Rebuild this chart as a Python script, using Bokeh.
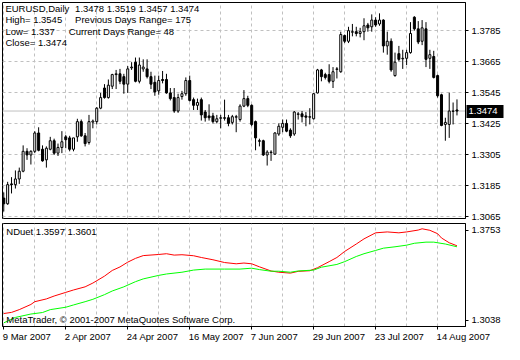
from bokeh.plotting import figure
from bokeh.models import (Range1d, FixedTicker, Span, Grid, LinearAxis,
                          ColumnDataSource, PrintfTickFormatter)
from bokeh.layouts import column
from bokeh.embed import file_html
from bokeh.resources import INLINE
from bokeh.core.properties import value

# ---------------- data ----------------
symbol = "EURUSD,Daily"
opens = [1.3137, 1.3115, 1.3192, 1.3189, 1.3211, 1.3241, 1.3318, 1.3304, 1.3318, 1.3389,
         1.3326, 1.3285, 1.3326, 1.3359, 1.3311, 1.3333, 1.3374, 1.3370, 1.3326, 1.3374,
         1.3433, 1.3378, 1.3352, 1.3431, 1.3433, 1.3485, 1.3563, 1.3526, 1.3570, 1.3615,
         1.3618, 1.3607, 1.3578, 1.3641, 1.3663, 1.3589, 1.3637, 1.3637, 1.3607, 1.3585,
         1.3552, 1.3596, 1.3596, 1.3544, 1.3526, 1.3474, 1.3530, 1.3541, 1.3592, 1.3518,
         1.3496, 1.3518, 1.3470, 1.3455, 1.3455, 1.3433, 1.3446, 1.3448, 1.3448, 1.3430,
         1.3450, 1.3441, 1.3493, 1.3522, 1.3496, 1.3433, 1.3359, 1.3359, 1.3304, 1.3313,
         1.3307, 1.3385, 1.3411, 1.3426, 1.3400, 1.3385, 1.3461, 1.3463, 1.3455, 1.3450,
         1.3444, 1.3544, 1.3633, 1.3615, 1.3615, 1.3589, 1.3635, 1.3626, 1.3766, 1.3744,
         1.3779, 1.3781, 1.3774, 1.3781, 1.3807, 1.3800, 1.3826, 1.3811, 1.3826, 1.3726,
         1.3744, 1.3611, 1.3696, 1.3676, 1.3678, 1.3700, 1.3837, 1.3792, 1.3744, 1.3792,
         1.3678, 1.3685, 1.3611, 1.3537, 1.3422, 1.3422, 1.3474, 1.3478]
highs = [1.3159, 1.3200, 1.3218, 1.3244, 1.3255, 1.3341, 1.3330, 1.3322, 1.3396, 1.3411,
         1.3341, 1.3337, 1.3374, 1.3367, 1.3348, 1.3396, 1.3381, 1.3378, 1.3348, 1.3444,
         1.3441, 1.3389, 1.3459, 1.3441, 1.3489, 1.3544, 1.3578, 1.3596, 1.3618, 1.3633,
         1.3637, 1.3618, 1.3648, 1.3663, 1.3681, 1.3681, 1.3674, 1.3674, 1.3626, 1.3611,
         1.3611, 1.3629, 1.3618, 1.3563, 1.3563, 1.3541, 1.3552, 1.3604, 1.3611, 1.3526,
         1.3522, 1.3526, 1.3478, 1.3500, 1.3467, 1.3459, 1.3459, 1.3518, 1.3459, 1.3459,
         1.3459, 1.3500, 1.3555, 1.3533, 1.3500, 1.3437, 1.3367, 1.3363, 1.3322, 1.3322,
         1.3392, 1.3426, 1.3441, 1.3441, 1.3407, 1.3474, 1.3470, 1.3474, 1.3470, 1.3485,
         1.3544, 1.3637, 1.3637, 1.3622, 1.3655, 1.3644, 1.3644, 1.3781, 1.3770, 1.3800,
         1.3811, 1.3800, 1.3796, 1.3833, 1.3815, 1.3848, 1.3837, 1.3852, 1.3829, 1.3781,
         1.3755, 1.3700, 1.3726, 1.3711, 1.3711, 1.3818, 1.3841, 1.3822, 1.3826, 1.3818,
         1.3711, 1.3707, 1.3615, 1.3541, 1.3448, 1.3545, 1.3507, 1.3519]
lows = [1.3085, 1.3111, 1.3155, 1.3174, 1.3192, 1.3237, 1.3285, 1.3267, 1.3311, 1.3318,
        1.3278, 1.3255, 1.3322, 1.3304, 1.3300, 1.3311, 1.3330, 1.3318, 1.3318, 1.3355,
        1.3374, 1.3337, 1.3344, 1.3407, 1.3422, 1.3481, 1.3522, 1.3522, 1.3559, 1.3559,
        1.3578, 1.3541, 1.3544, 1.3633, 1.3585, 1.3581, 1.3626, 1.3600, 1.3559, 1.3533,
        1.3537, 1.3581, 1.3541, 1.3515, 1.3467, 1.3467, 1.3518, 1.3533, 1.3511, 1.3478,
        1.3478, 1.3437, 1.3433, 1.3437, 1.3426, 1.3426, 1.3407, 1.3437, 1.3415, 1.3422,
        1.3392, 1.3433, 1.3489, 1.3489, 1.3415, 1.3322, 1.3337, 1.3300, 1.3263, 1.3281,
        1.3304, 1.3378, 1.3392, 1.3392, 1.3370, 1.3378, 1.3441, 1.3430, 1.3415, 1.3422,
        1.3441, 1.3542, 1.3589, 1.3596, 1.3581, 1.3563, 1.3600, 1.3622, 1.3737, 1.3737,
        1.3763, 1.3763, 1.3759, 1.3748, 1.3781, 1.3781, 1.3800, 1.3804, 1.3700, 1.3692,
        1.3626, 1.3607, 1.3666, 1.3637, 1.3652, 1.3696, 1.3785, 1.3733, 1.3729, 1.3644,
        1.3637, 1.3600, 1.3526, 1.3415, 1.3359, 1.3370, 1.3422, 1.3457]
closes = [1.3115, 1.3189, 1.3189, 1.3211, 1.3241, 1.3318, 1.3304, 1.3318, 1.3389, 1.3322,
          1.3281, 1.3330, 1.3359, 1.3311, 1.3333, 1.3355, 1.3363, 1.3326, 1.3370, 1.3433,
          1.3378, 1.3348, 1.3433, 1.3435, 1.3485, 1.3526, 1.3526, 1.3574, 1.3615, 1.3618,
          1.3589, 1.3578, 1.3637, 1.3644, 1.3589, 1.3652, 1.3644, 1.3607, 1.3578, 1.3548,
          1.3592, 1.3592, 1.3544, 1.3522, 1.3474, 1.3526, 1.3541, 1.3592, 1.3515, 1.3496,
          1.3507, 1.3459, 1.3448, 1.3448, 1.3433, 1.3444, 1.3448, 1.3446, 1.3426, 1.3452,
          1.3452, 1.3493, 1.3522, 1.3496, 1.3422, 1.3370, 1.3357, 1.3304, 1.3315, 1.3315,
          1.3389, 1.3415, 1.3426, 1.3396, 1.3378, 1.3470, 1.3463, 1.3452, 1.3450, 1.3452,
          1.3541, 1.3633, 1.3607, 1.3604, 1.3589, 1.3626, 1.3637, 1.3770, 1.3744, 1.3785,
          1.3781, 1.3774, 1.3781, 1.3804, 1.3796, 1.3826, 1.3807, 1.3826, 1.3726, 1.3744,
          1.3633, 1.3663, 1.3674, 1.3678, 1.3700, 1.3774, 1.3792, 1.3741, 1.3796, 1.3674,
          1.3692, 1.3604, 1.3533, 1.3418, 1.3430, 1.3474, 1.3473, 1.3474]

price_ticks = [1.3065, 1.3185, 1.3305, 1.3425, 1.3545, 1.3665, 1.3785]
date_bars = [0, 16, 32, 48, 64, 80, 96, 112]
date_labels = ["9 Mar 2007", "2 Apr 2007", "24 Apr 2007", "16 May 2007",
               "7 Jun 2007", "29 Jun 2007", "23 Jul 2007", "14 Aug 2007"]
grid_bars = [0, 8, 16, 24, 32, 40, 48, 56, 64, 72, 80, 88, 96, 104, 112]

info_high = "1.3545"
info_low = "1.337"
info_close = "1.3474"
prev_range = 175
cur_range = 48

ind_name = "NDuet"
ind_vals_text = ["1.3597", "1.3601"]
red_bars = [0, 2, 4, 7, 8, 11, 13, 16, 18, 21, 23, 26, 28, 30, 32, 34, 36, 40, 42, 44,
            46, 49, 51, 54, 57, 60, 62, 64, 66, 69, 71, 74, 76, 79, 81, 84, 86, 88, 91, 93,
            96, 99, 102, 104, 107, 108, 110, 112, 113, 115, 117]
red_vals = [1.3092, 1.3101, 1.3123, 1.3164, 1.3186, 1.3208, 1.3231, 1.3260, 1.3279, 1.3304,
            1.3334, 1.3389, 1.3434, 1.3462, 1.3500, 1.3530, 1.3552, 1.3561, 1.3567, 1.3556,
            1.3559, 1.3551, 1.3537, 1.3519, 1.3497, 1.3487, 1.3493, 1.3487, 1.3463, 1.3430,
            1.3420, 1.3413, 1.3427, 1.3432, 1.3456, 1.3504, 1.3537, 1.3585, 1.3644, 1.3685,
            1.3733, 1.3740, 1.3733, 1.3740, 1.3755, 1.3765, 1.3753, 1.3726, 1.3692, 1.3654,
            1.3630]
green_bars = [0, 3, 7, 10, 12, 16, 18, 21, 23, 26, 28, 31, 34, 36, 40, 42, 46, 49, 52, 57,
              61, 64, 66, 69, 71, 74, 76, 80, 82, 86, 88, 91, 93, 96, 98, 101, 104, 106, 109,
              111, 114, 117]
green_vals = [1.3018, 1.3061, 1.3088, 1.3100, 1.3123, 1.3142, 1.3160, 1.3186, 1.3205, 1.3242,
              1.3271, 1.3304, 1.3345, 1.3367, 1.3395, 1.3406, 1.3420, 1.3437, 1.3445, 1.3445,
              1.3445, 1.3452, 1.3441, 1.3428, 1.3428, 1.3420, 1.3430, 1.3437, 1.3460, 1.3482,
              1.3504, 1.3545, 1.3567, 1.3593, 1.3611, 1.3622, 1.3635, 1.3650, 1.3659, 1.3659,
              1.3644, 1.3622]
ind_ticks = [1.3753, 1.3038]
copyright_text = "MetaTrader, \u00a9 2001-2007 MetaQuotes Software Corp."

# ---------------- layout constants ----------------
FONT = "Liberation Sans"
FS = "9.5px"
FS_PX = 9.5
X_LO, X_HI = -0.33, 119.2
Y_LO, Y_HI = 1.3058, 1.3894
IY_LO, IY_HI = 1.2989, 1.3807
W = 504
LEFT, RIGHT = 2, 39
FRAME_W = W - LEFT - RIGHT
MAIN_H, MAIN_TOP, MAIN_BOT = 222, 2, 4
MAIN_FH = MAIN_H - MAIN_TOP - MAIN_BOT
IND_H, IND_TOP, IND_BOT = 122, 1, 17
IND_FH = IND_H - IND_TOP - IND_BOT

xpp = (X_HI - X_LO) / FRAME_W
ypp = (Y_HI - Y_LO) / MAIN_FH
iypp = (IY_HI - IY_LO) / IND_FH

GRID_COLOR = "#C0C0C0"


def style_right_axis(ax, ticks):
    ax.ticker = FixedTicker(ticks=ticks)
    ax.formatter = PrintfTickFormatter(format="%.4f")
    ax.major_tick_out = 3
    ax.major_tick_in = 0
    ax.minor_tick_line_color = None
    ax.axis_line_color = "black"
    ax.major_tick_line_color = "black"
    ax.major_label_text_font = FONT
    ax.major_label_text_font_size = FS
    ax.major_label_text_color = "black"
    ax.major_label_standoff = 3


# ---------------- main pane ----------------
p = figure(width=W, height=MAIN_H, x_range=Range1d(X_LO, X_HI),
           y_range=Range1d(Y_LO, Y_HI), x_axis_location=None,
           y_axis_location="right", min_border_left=LEFT, min_border_right=RIGHT,
           min_border_top=MAIN_TOP, min_border_bottom=MAIN_BOT,
           output_backend="svg", toolbar_location=None,
           background_fill_color="white", border_fill_color="white")
p.outline_line_color = "black"
p.outline_line_alpha = 1.0
p.grid.visible = False
style_right_axis(p.yaxis[0], price_ticks)

p.add_layout(Grid(dimension=0, ticker=FixedTicker(ticks=grid_bars),
                  grid_line_color=GRID_COLOR, grid_line_dash="3 3"))
p.add_layout(Grid(dimension=1, ticker=FixedTicker(ticks=price_ticks),
                  grid_line_color=GRID_COLOR, grid_line_dash="3 3"))

p.add_layout(Span(location=closes[-1], dimension="width", line_color=GRID_COLOR,
                  line_width=1, level="underlay"))

xs = list(range(len(opens)))
src = ColumnDataSource(dict(
    x=xs, o=opens, h=highs, l=lows, c=closes,
    top=[max(o, c) for o, c in zip(opens, closes)],
    bottom=[min(o, c) for o, c in zip(opens, closes)],
    fill=["white" if c >= o else "black" for o, c in zip(opens, closes)],
))
p.segment(x0="x", y0="l", x1="x", y1="h", source=src, line_color="black", line_width=1)
p.vbar(x="x", top="top", bottom="bottom", width=0.52, fill_color="fill",
       line_color="black", line_width=1, source=src)


def mx(px):
    return X_LO + px * xpp


def my(px):
    return Y_HI - px * ypp


col1 = 2.9
info_rows = [
    (col1, 5.7, symbol),
    (72.6, 5.7, " ".join(f"{v:.4f}" for v in (opens[-1], highs[-1], lows[-1], closes[-1]))),
    (col1, 17.2, f"High= {info_high}"),
    (72.6, 17.2, f"Previous Days Range= {prev_range}"),
    (col1, 28.7, f"Low= {info_low}"),
    (66.3, 28.7, f"Current Days Range= {cur_range}"),
    (col1, 40.2, f"Close= {info_close}"),
]
p.text(x=[mx(r[0]) for r in info_rows], y=[my(r[1]) for r in info_rows],
       text=[r[2] for r in info_rows], text_font=value(FONT), text_font_size=FS,
       text_color="black", text_baseline="middle", text_align="left")

# current price marker on the price scale: a second right axis carrying only
# the last close; its label is pulled back over the first price scale and
# a thick inward tick gives it the black box.
cur_axis = LinearAxis(ticker=FixedTicker(ticks=[closes[-1]]),
                      formatter=PrintfTickFormatter(format="%.4f"),
                      axis_line_color=None,
                      major_tick_line_color="black", major_tick_line_width=13,
                      major_tick_line_cap="butt",
                      minor_tick_line_color=None, major_tick_out=0, major_tick_in=37,
                      major_label_standoff=-35,
                      major_label_text_font=FONT, major_label_text_font_size=FS,
                      major_label_text_color="white")
p.add_layout(cur_axis, "right")

# ---------------- indicator pane ----------------
q = figure(width=W, height=IND_H, x_range=p.x_range, y_range=Range1d(IY_LO, IY_HI),
           y_axis_location="right", x_axis_location="below",
           min_border_left=LEFT, min_border_right=RIGHT,
           min_border_top=IND_TOP, min_border_bottom=IND_BOT,
           output_backend="svg", toolbar_location=None,
           background_fill_color="white", border_fill_color="white")
q.outline_line_color = "black"
q.outline_line_alpha = 1.0
q.grid.visible = False
style_right_axis(q.yaxis[0], ind_ticks)
q.add_layout(Grid(dimension=0, ticker=FixedTicker(ticks=grid_bars),
                  grid_line_color=GRID_COLOR, grid_line_dash="3 3"))

q.line(red_bars, red_vals, line_color="#FF0000", line_width=1)
q.line(green_bars, green_vals, line_color="#00FF00", line_width=1)

q.text(x=[X_LO + 3.8 * xpp, X_LO + 3.8 * xpp],
       y=[IY_HI - 8.4 * iypp, IY_HI - 97.3 * iypp],
       text=[f"{ind_name} {ind_vals_text[0]} {ind_vals_text[1]}", copyright_text],
       text_font=value(FONT), text_font_size=FS, text_color="black",
       text_baseline="middle", text_align="left")

# date axis: labels are left-aligned at their date tick in the original,
# so label centres are shifted; the date ticks themselves are minor ticks.
CW = {"0": .556, "1": .556, "2": .556, "3": .556, "4": .556, "5": .556, "6": .556,
      "7": .556, "8": .556, "9": .556, " ": .278, "M": .833, "a": .556, "r": .333,
      "A": .667, "p": .556, "y": .5, "J": .5, "u": .556, "n": .556, "l": .222, "g": .556}
shifted, overrides = [], {}
for b, lab in zip(date_bars, date_labels):
    half = 0.5 * sum(CW.get(ch, .556) for ch in lab) * FS_PX
    pos = round(b + (half - 1.0) * xpp, 3)
    shifted.append(pos)
    overrides[pos] = lab

ax = q.xaxis[0]
ax.ticker = FixedTicker(ticks=shifted, minor_ticks=date_bars)
ax.major_label_overrides = overrides
ax.major_tick_out = 3
ax.major_tick_in = 0
ax.major_tick_line_color = None
ax.minor_tick_out = 3
ax.minor_tick_in = 0
ax.minor_tick_line_color = "black"
ax.axis_line_color = "black"
ax.major_label_standoff = 1
ax.major_label_text_font = FONT
ax.major_label_text_font_size = FS
ax.major_label_text_color = "black"

layout = column(p, q, spacing=0)
open("out.html", "w").write(file_html(layout, INLINE))
